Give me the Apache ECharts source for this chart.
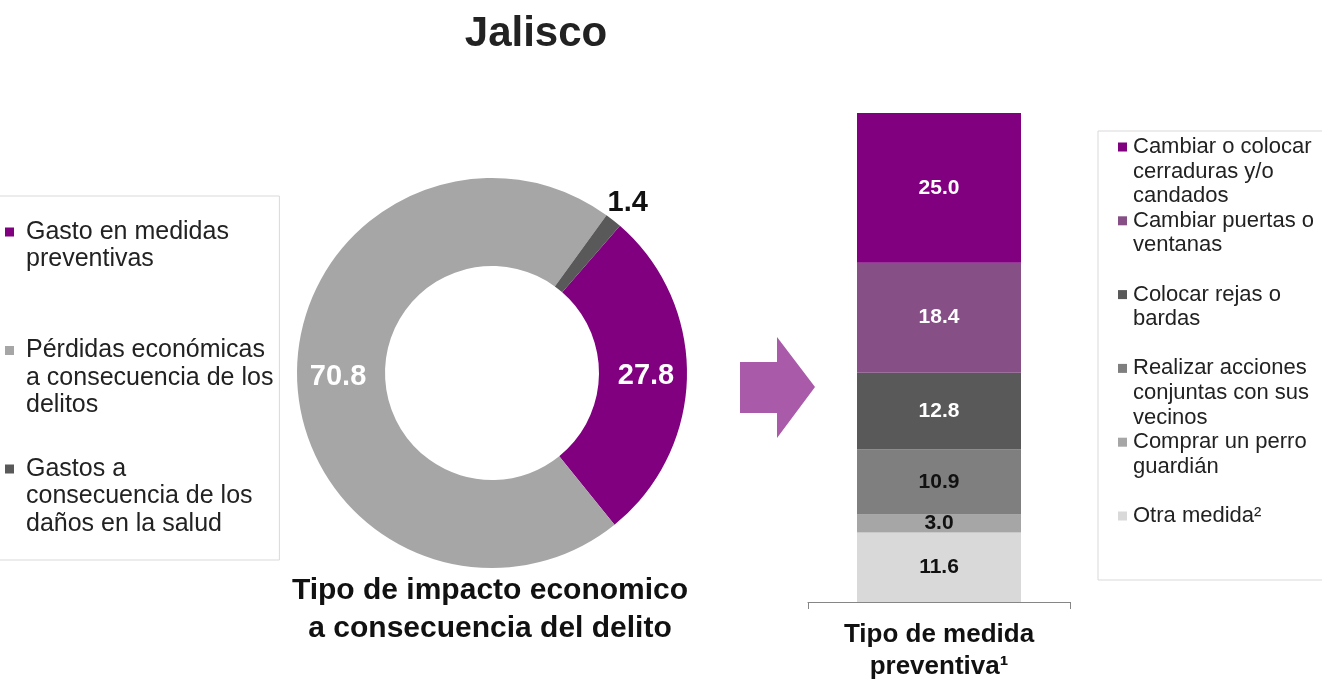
<!DOCTYPE html>
<html>
<head>
<meta charset="UTF-8">
<title>Jalisco</title>
<script src="https://cdn.jsdelivr.net/npm/echarts@6/dist/echarts.min.js"></script>
<style>
  body { margin: 0; background: #fff; }
  #main { width: 1322px; height: 679px; }
</style>
</head>
<body>
<div id="main"></div>
<script>
// datos del donut (tipo de impacto economico)
var pieNames = ['Gasto en medidas preventivas', 'Pérdidas económicas a consecuencia de los delitos', 'Gastos a consecuencia de los daños en la salud'];
var pieValues = [27.8, 70.8, 1.4];
var pieLegendLines = [
  ['Gasto en medidas', 'preventivas'],
  ['Pérdidas económicas', 'a consecuencia de los', 'delitos'],
  ['Gastos a', 'consecuencia de los', 'daños en la salud']
];

// datos de la barra apilada (tipo de medida preventiva), de arriba hacia abajo
var barNames = ['Cambiar o colocar cerraduras y/o candados', 'Cambiar puertas o ventanas', 'Colocar rejas o bardas', 'Realizar acciones conjuntas con sus vecinos', 'Comprar un perro guardián', 'Otra medida²'];
var barValues = [25.0, 18.4, 12.8, 10.9, 3.0, 11.6];
var barLegendLines = [
  ['Cambiar o colocar', 'cerraduras y/o', 'candados'],
  ['Cambiar puertas o', 'ventanas'],
  ['Colocar rejas o', 'bardas'],
  ['Realizar acciones', 'conjuntas con sus', 'vecinos'],
  ['Comprar un perro', 'guardián'],
  ['Otra medida²']
];
var barCategory = ['Tipo de medida\npreventiva¹'];

var pieColors = ['#800080', '#a6a6a6', '#595959'];
var barColors = ['#800080', '#864f86', '#595959', '#7f7f7f', '#a6a6a6', '#d9d9d9'];
var barLabelColors = ['#fff', '#fff', '#fff', '#111', '#111', '#111'];

var FONT = 'Liberation Sans, Arial, sans-serif';
var LEFT_LH = 27.5, RIGHT_LH = 24.6;

// leyenda con el cuadrito en la primera linea (texto enriquecido)
function legendText(lines, idx, nLines) {
  var out = ['{c' + idx + '| }{g| }' + lines[0]];
  for (var i = 1; i < lines.length; i++) out.push('{ind| }' + lines[i]);
  while (out.length < nLines) out.push(' ');
  return out.join('\n');
}
function legendRich(colors, lh, gap, fs) {
  var rich = {
    g: { width: gap, lineHeight: lh, fontSize: fs },
    ind: { width: 9 + gap, lineHeight: lh, fontSize: fs }
  };
  colors.forEach(function (c, i) {
    rich['c' + i] = { width: 9, height: 9, backgroundColor: c, lineHeight: lh, fontSize: fs };
  });
  return rich;
}

var total = barValues.reduce(function (a, b) { return a + b; }, 0);

var barSeries = [];
for (var i = barValues.length - 1; i >= 0; i--) {
  barSeries.push({
    name: barNames[i],
    type: 'bar',
    stack: 'medida',
    barWidth: 164,
    data: [barValues[i]],
    itemStyle: { color: barColors[i] },
    label: {
      show: true,
      position: 'inside',
      formatter: function (p) { return p.value.toFixed(1); },
      color: barLabelColors[i],
      fontFamily: FONT,
      fontWeight: 'bold',
      fontSize: 21
    },
    emphasis: { disabled: true }
  });
}

var myChart = echarts.init(document.getElementById('main'));

var option = {
  animation: false,
  backgroundColor: '#fff',
  title: [
    {
      text: 'Jalisco',
      left: 536,
      top: 13,
      textAlign: 'center',
      padding: 0,
      textStyle: { fontFamily: FONT, fontWeight: 'bold', fontSize: 42, color: '#222' }
    },
    {
      text: 'Tipo de impacto economico\na consecuencia del delito',
      left: 490,
      top: 572,
      textAlign: 'center',
      padding: 0,
      textStyle: { fontFamily: FONT, fontWeight: 'bold', fontSize: 30, lineHeight: 38, color: '#111' }
    }
  ],
  legend: [
    {
      data: pieNames,
      orient: 'vertical',
      left: -10,
      top: 196,
      padding: [22.25, 6, 22.25, 10],
      itemWidth: 0,
      itemHeight: 3 * LEFT_LH,
      itemGap: 36,
      selectedMode: false,
      borderColor: '#d9d9d9',
      borderWidth: 1,
      itemStyle: { opacity: 0 },
      formatter: function (name) {
        var k = pieNames.indexOf(name);
        return legendText(pieLegendLines[k], k, 3);
      },
      textStyle: {
        fontFamily: FONT, fontSize: 25, lineHeight: LEFT_LH, color: '#222',
        rich: legendRich(pieColors, LEFT_LH, 12, 25)
      }
    },
    {
      data: barNames,
      orient: 'vertical',
      left: 1098,
      top: 131,
      padding: [3.7, 30, 2.5, 15],
      itemWidth: 0,
      itemHeight: 3 * RIGHT_LH,
      itemGap: 0,
      selectedMode: false,
      borderColor: '#d9d9d9',
      borderWidth: 1,
      itemStyle: { opacity: 0 },
      formatter: function (name) {
        var k = barNames.indexOf(name);
        return legendText(barLegendLines[k], k, 3);
      },
      textStyle: {
        fontFamily: FONT, fontSize: 22, lineHeight: RIGHT_LH, color: '#222',
        rich: legendRich(barColors, RIGHT_LH, 6, 22)
      }
    }
  ],
  grid: { left: 808, right: 252, top: 113, bottom: 77, outerBoundsMode: 'none', containLabel: false },
  xAxis: {
    type: 'category',
    data: barCategory,
    axisLine: { lineStyle: { color: '#868686', width: 1 } },
    axisTick: { show: true, length: 7, lineStyle: { color: '#868686' } },
    axisLabel: {
      margin: 17,
      fontFamily: FONT,
      fontWeight: 'bold',
      fontSize: 26,
      lineHeight: 32,
      color: '#111'
    }
  },
  yAxis: { type: 'value', min: 0, max: total, show: false },
  graphic: [
    {
      type: 'polygon',
      shape: { points: [[740, 362], [777, 362], [777, 337], [815, 387], [777, 438], [777, 413], [740, 413]] },
      style: { fill: '#a95aa9' },
      silent: true
    }
  ],
  series: [
    {
      name: 'Tipo de impacto economico',
      type: 'pie',
      center: [492, 373],
      radius: [107, 195],
      startAngle: 49,
      clockwise: true,
      avoidLabelOverlap: false,
      data: pieNames.map(function (n, k) {
        var d = { name: n, value: pieValues[k], itemStyle: { color: pieColors[k] } };
        if (k === 2) d.label = { position: 'outside', color: '#111' };
        return d;
      }),
      label: {
        show: true,
        position: 'inside',
        formatter: function (p) { return p.value.toFixed(1); },
        color: '#fff',
        fontFamily: FONT,
        fontWeight: 'bold',
        fontSize: 29
      },
      labelLine: { show: false, length: 10, length2: 0 },
      labelLayout: function (p) {
        if (p.dataIndex === 2) return { dx: -17, dy: -10 };
      },
      emphasis: { disabled: true }
    }
  ].concat(barSeries)
};

myChart.setOption(option);
</script>
</body>
</html>
